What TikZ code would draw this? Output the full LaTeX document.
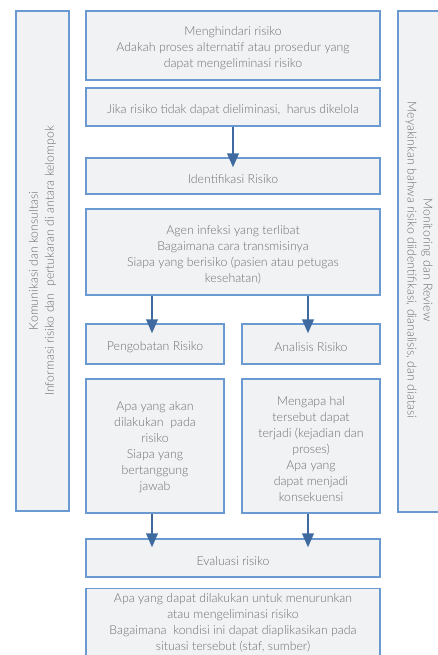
\documentclass[tikz,border=0pt]{standalone}
\usepackage{fontspec}
\setmainfont{Lato}[UprightFont=* Light]
\usetikzlibrary{arrows.meta}
\definecolor{boxfill}{HTML}{F1F2F4}
\definecolor{boxline}{HTML}{6B9AD3}
\definecolor{arrcol}{HTML}{3F6A9F}
\definecolor{txt}{HTML}{6D6E70}
\tikzset{
  box/.style={draw=boxline, fill=boxfill, line width=1.3pt, inner sep=0pt},
  btext/.style={text=txt, align=center, font=\fontsize{12.3}{16}\selectfont, inner sep=0pt},
  arr/.style={draw=arrcol, line width=2.3pt, -{Triangle[length=14pt,width=11.5pt]}}
}
\begin{document}
\begin{tikzpicture}[x=1pt,y=1pt]
\useasboundingbox (0,0) rectangle (437,-655);
% side boxes
\node[box, minimum width=53pt, minimum height=500pt] (left) at (42.5,-261) {};
\node[btext, rotate=90] (lefttext) at (42.5,-261) {Komunikasi dan konsultasi\\Informasi risiko dan\ \ pertukaran di antara kelompok};
\node[box, minimum width=50pt, minimum height=501pt] (right) at (423,-261.5) {};
\node[btext, rotate=-90] (righttext) at (419,-260) {Monitoring dan Review\\Meyakinkan bahwa risiko diidentifikasi, dianalisis, dan diatasi};
% main boxes
\node[box, minimum width=294pt, minimum height=69pt] (b1) at (233,-45.5) {};
\node[box, minimum width=294pt, minimum height=38pt] (b2) at (233,-107) {};
\node[box, minimum width=294pt, minimum height=36pt] (b3) at (233,-176) {};
\node[box, minimum width=294pt, minimum height=86pt] (b4) at (233,-252) {};
\node[box, minimum width=138pt, minimum height=40pt] (b5) at (155,-344) {};
\node[box, minimum width=138pt, minimum height=40pt] (b6) at (311,-344) {};
\node[box, minimum width=138pt, minimum height=134pt] (b7) at (155,-446) {};
\node[box, minimum width=138pt, minimum height=134pt] (b8) at (311,-446) {};
\node[box, minimum width=294pt, minimum height=38pt] (b9) at (233,-558) {};
\node[box, minimum width=294pt, minimum height=80pt, anchor=north] (b10) at (233,-588) {};
% texts
\node[btext] (t1) at ([yshift=-3pt]b1.center) {Menghindari risiko\\Adakah proses alternatif atau prosedur yang\\dapat mengeliminasi risiko};
\node[btext] (t2) at ([yshift=-3pt]b2.center) {Jika risiko tidak dapat dieliminasi,\ \ harus dikelola};
\node[btext] (t3) at ([yshift=-3pt]b3.center) {Identifikasi Risiko};
\node[btext] (t4) at ([yshift=-3pt]b4.center) {Agen infeksi yang terlibat\\Bagaimana cara transmisinya\\Siapa yang berisiko (pasien atau petugas\\kesehatan)};
\node[btext] (t5) at ([yshift=-3pt]b5.center) {Pengobatan Risiko};
\node[btext] (t6) at ([yshift=-3pt]b6.center) {Analisis Risiko};
\node[btext] (t7) at ([yshift=-1pt]b7.center) {Apa yang akan\\dilakukan\ \ pada\\risiko\\Siapa yang\\bertanggung\\jawab};
\node[btext] (t8) at ([yshift=-3pt]b8.center) {Mengapa hal\\tersebut dapat\\terjadi (kejadian dan\\proses)\\Apa yang\\dapat menjadi\\konsekuensi};
\node[btext] (t9) at ([yshift=-3pt]b9.center) {Evaluasi risiko};
\node[btext, anchor=north] (t10) at ([yshift=-5pt]b10.north) {Apa yang dapat dilakukan untuk menurunkan\\atau mengeliminasi risiko\\Bagaimana\ \ kondisi ini dapat diaplikasikan pada\\situasi tersebut (staf, sumber)};
% arrows
\draw[arr] (b2.south) -- ([yshift=-10pt]b3.north);
\draw[arr] ([xshift=-3pt]b4.south -| b5.north) -- ([xshift=-3pt,yshift=-10pt]b5.north);
\draw[arr] ([xshift=-3pt]b4.south -| b6.north) -- ([xshift=-3pt,yshift=-10pt]b6.north);
\draw[arr] ([xshift=-3pt]b7.south) -- ([xshift=-3pt,yshift=-9pt]b7.south |- b9.north);
\draw[arr] ([xshift=-3pt]b8.south) -- ([xshift=-3pt,yshift=-9pt]b8.south |- b9.north);
\end{tikzpicture}
\end{document}
